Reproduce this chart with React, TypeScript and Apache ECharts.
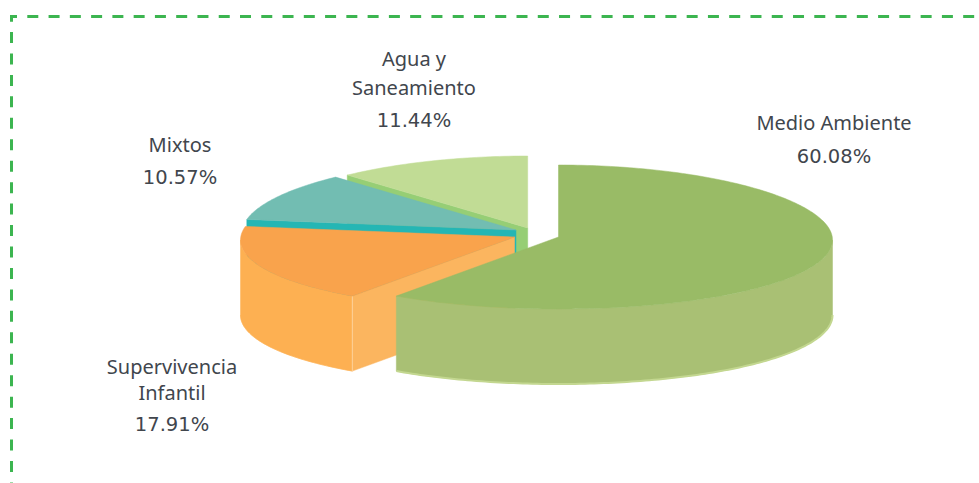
import React, { useEffect, useRef } from "react";
import * as echarts from "echarts";

// Data
const categories = ["Medio Ambiente", "Supervivencia\nInfantil", "Mixtos", "Agua y\nSaneamiento"];
const shares = [60.08, 17.91, 10.57, 11.44];

// Styling and layout (one entry per slice)
const topColors = ["#99BB66", "#F9A34C", "#72BDB2", "#C1DC95"];
const outerWallColors = ["#A9C074", "#FDB052", "#2AB5B2", "#96CE75"];
const cutWallColors = ["#A9C074", "#FBB55F", "#25B6B4", "#96CE75"];
const centers = [[558.5, 237], [514.5, 237], [516, 230], [527.7, 228]];
const labelAnchors = [
  { x: 834, lines: [122], pct: 156 },
  { x: 172, lines: [366, 392], pct: 424 },
  { x: 180, lines: [144], pct: 177 },
  { x: 414, lines: [58, 87], pct: 120 },
];
const RX = 274;
const RY = 72;
const DEPTH = 75;
const SAG = 3; // the widest point of the tilted disc sits a little below its centre
const NAME_FONT = "20px 'Noto Sans', sans-serif";
const PCT_FONT = "19.5px 'DejaVu Sans', sans-serif";
const TEXT_COLOR = "#41464D";
const DASH = "#3CB550";

const total = shares.reduce((a, b) => a + b, 0);
const startDeg = (i: number) => shares.slice(0, i).reduce((a, b) => a + b, 0) / total * 360;

function rim(c: number[], deg: number, dy = 0) {
  const r = (deg * Math.PI) / 180;
  const s = Math.sin(r);
  return [c[0] + RX * s, c[1] - RY * Math.cos(r) + SAG * s * s + dy];
}
function arc(c: number[], a: number, b: number, dy = 0) {
  const pts: number[][] = [];
  const n = Math.max(2, Math.ceil(Math.abs(b - a)));
  for (let k = 0; k <= n; k++) pts.push(rim(c, a + ((b - a) * k) / n, dy));
  return pts;
}

function renderSlice(_: any, api: any) {
  const i = api.value(0) as number;
  const value = api.value(1) as number;
  const a = startDeg(i);
  const b = a + (value / total) * 360;
  const c = centers[i];
  const children: any[] = [];
  const poly = (points: number[][], fill: string) =>
    children.push({ type: "polygon", shape: { points }, style: { fill, stroke: fill, lineWidth: 0.5 } });

  // Cut face that points to the viewer
  if (a > 90) {
    const p = rim(c, a);
    poly([c, p, [p[0], p[1] + DEPTH], [c[0], c[1] + DEPTH]], cutWallColors[i]);
  }
  // Outer rim wall
  const wa = Math.max(a, 90);
  const wb = Math.min(b, 270);
  if (wb > wa) {
    const up = arc(c, wa, wb);
    const down = arc(c, wa, wb, DEPTH);
    poly([...up, ...down.slice().reverse()], outerWallColors[i]);
    children.push({
      type: "polyline",
      shape: { points: down },
      style: { fill: "none", stroke: i === 0 ? "#C3D790" : outerWallColors[i], lineWidth: i === 0 ? 2 : 0.5 },
    });
    if (i === 1) {
      const p = rim(c, a);
      children.push({
        type: "line",
        shape: { x1: p[0], y1: p[1], x2: p[0], y2: p[1] + DEPTH },
        style: { stroke: "#FDD29C", lineWidth: 1 },
      });
    }
  }
  // Top face
  poly([c, ...arc(c, a, b)], topColors[i]);
  return { type: "group", children };
}

function textEl(text: string, x: number, y: number, font: string) {
  return {
    type: "text",
    x,
    y,
    silent: true,
    style: { text, fill: TEXT_COLOR, font, textAlign: "center", textVerticalAlign: "middle" },
  };
}

function buildGraphics() {
  const els: any[] = [];
  const line = (points: number[][], dash?: number[]) =>
    els.push({
      type: "polyline",
      silent: true,
      shape: { points },
      style: { fill: "none", stroke: DASH, lineWidth: 3, lineDash: dash, lineCap: "butt" },
    });
  line([[11.5, 21.7], [11.5, 16.5], [17, 16.5]]);
  line([[27.3, 16.5], [990, 16.5]], [11, 10.27]);
  line([[11.5, 32], [11.5, 495]], [11, 10.45]);
  categories.forEach((name, i) => {
    const anchor = labelAnchors[i];
    name.split("\n").forEach((t, k) => els.push(textEl(t, anchor.x, anchor.lines[k], NAME_FONT)));
    els.push(textEl(`${shares[i].toFixed(2)}%`, anchor.x, anchor.pct, PCT_FONT));
  });
  return els;
}

export default function App() {
  const ref = useRef<HTMLDivElement>(null);
  useEffect(() => {
    document.body.style.margin = "0";
    const chart = echarts.init(ref.current!, undefined, { renderer: "svg" });
    chart.setOption({
      animation: false,
      backgroundColor: "#FFFFFF",
      graphic: { elements: buildGraphics() },
      series: [
        {
          type: "custom",
          coordinateSystem: "none",
          silent: true,
          renderItem: renderSlice,
          // painted back to front
          data: [3, 2, 1, 0].map((i) => [i, shares[i]]),
        },
      ],
    });
    return () => chart.dispose();
  }, []);
  return <div ref={ref} style={{ position: "absolute", left: 0, top: 0, width: 979, height: 483 }} />;
}
